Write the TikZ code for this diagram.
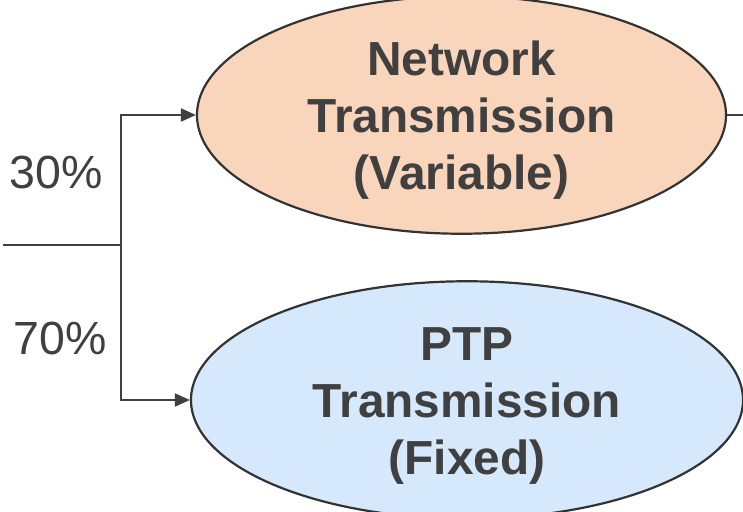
\documentclass[tikz,border=0pt]{standalone}
\usepackage{fontspec}
\setmainfont{Liberation Sans}
\usetikzlibrary{shapes.geometric,arrows.meta}
\definecolor{txtgray}{HTML}{404040}
\definecolor{linegray}{HTML}{333333}
\definecolor{peach}{HTML}{F9D6BB}
\definecolor{lightblue}{HTML}{D5E8FC}
\begin{document}
\begin{tikzpicture}[x=1pt,y=-1pt,
  oval/.style={ellipse,draw=linegray,line width=2.2pt,inner sep=0pt,align=center,
    text=txtgray,font=\fontsize{47.8}{57}\selectfont\bfseries},
  conn/.style={draw=txtgray,line width=2pt},
  arr/.style={conn,-{Triangle[length=15pt,width=13pt]}},
  pct/.style={text=txtgray,font=\fontsize{46.5}{50}\selectfont,inner sep=0pt}]
\useasboundingbox (0,0) rectangle (743,511);
\node[oval,fill=peach,minimum width=529pt,minimum height=222pt] (net) at (461.5,115)
  {\rule{0pt}{44pt}Network\\Transmission\\(Variable)};
\node[oval,fill=lightblue,minimum width=552pt,minimum height=220pt] (ptp) at (467,400)
  {\rule{0pt}{44pt}PTP\\Transmission\\(Fixed)};
\coordinate (in) at (3,245);
\coordinate (j) at (121,245);
\coordinate (out) at (745,115);
\draw[conn,line width=1.2pt] (in) -- (j);
\draw[arr] (j) |- (net.west);
\draw[arr] (j) |- (ptp.west);
\draw[conn,line width=1.5pt] (net.east) -- (out);
\node[pct] (p30) at (56.5,172) {30\%};
\node[pct] (p70) at (60.5,338) {70\%};
\end{tikzpicture}
\end{document}
